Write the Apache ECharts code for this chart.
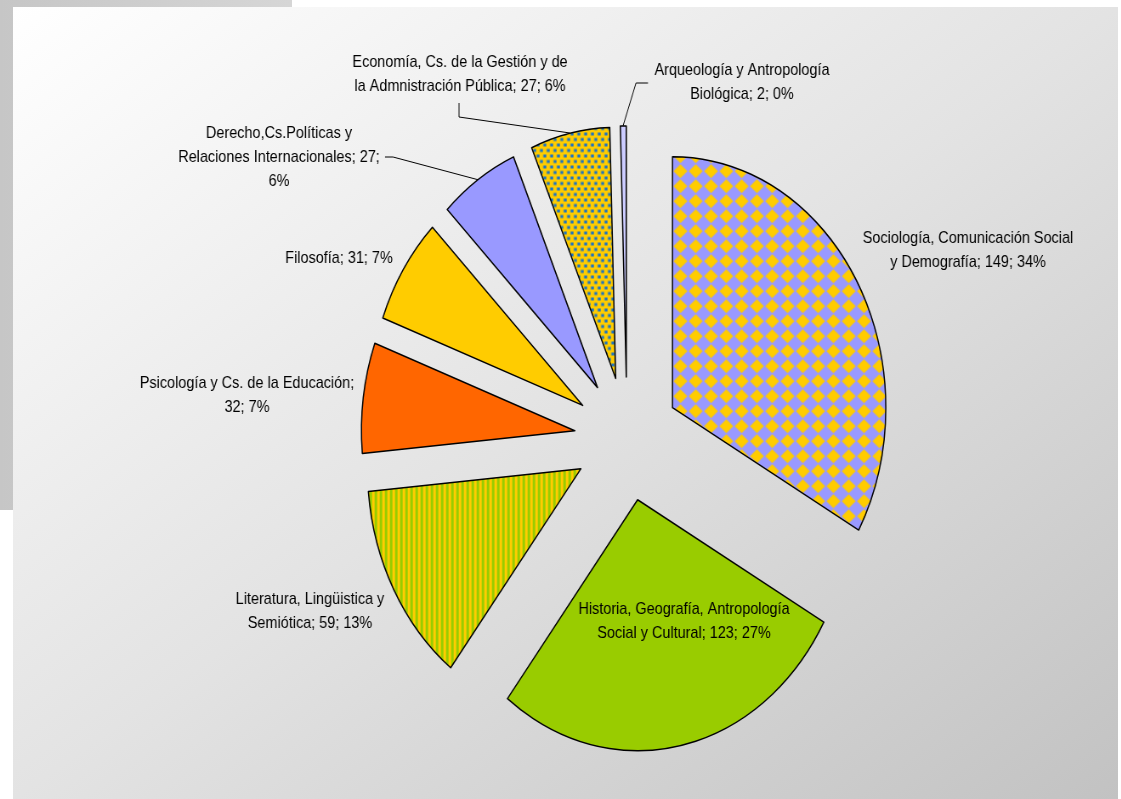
<!DOCTYPE html>
<html>
<head>
<meta charset="utf-8">
<script src="https://cdn.jsdelivr.net/npm/echarts@6/dist/echarts.min.js"></script>
<style>
  html, body { margin: 0; padding: 0; background: #ffffff; overflow: hidden; }
  .back-block {
    position: absolute; left: 0; top: 0; width: 292px; height: 510px;
    background: linear-gradient(to right, #c6c6c6, #d6d6d6);
  }
  .panel {
    position: absolute; left: 13px; top: 7px; width: 1105px; height: 792px;
    background: linear-gradient(to bottom right, #ffffff 0%, #e3e3e3 50%, #c2c2c2 100%);
  }
  /* el original está estirado en horizontal: se dibuja ancho y se comprime */
  #chart {
    position: absolute; left: 0; top: 0; width: 1319px; height: 799px;
    transform: scaleX(0.85); transform-origin: 0 0;
  }
</style>
</head>
<body>
<div class="back-block"></div>
<div class="panel"></div>
<div id="chart"></div>
<script>
// Datos
const categories = [
  'Sociología, Comunicación Social\ny Demografía',
  'Historia, Geografía, Antropología\nSocial y Cultural',
  'Literatura, Lingüistica y\nSemiótica',
  'Psicología y Cs. de la Educación',
  'Filosofía',
  'Derecho,Cs.Políticas y\nRelaciones Internacionales',
  'Economía, Cs. de la Gestión y de\nla Admnistración Pública',
  'Arqueología y Antropología\nBiológica'
];
const values = [149, 123, 59, 32, 31, 27, 27, 2];
const percents = [34, 27, 13, 7, 7, 6, 6, 0];
// dónde corta la etiqueta después del nombre
const labelBreak = ['', '', '', 'value', '', 'pct', '', ''];

const SX = 0.85; // compresión horizontal
const CENTER = [627 / SX, 439];
const RADIUS = 251;

// Texturas
const makeTile = (w, h, draw) => {
  const c = document.createElement('canvas');
  c.width = w; c.height = h;
  draw(c.getContext('2d'));
  return { image: c, repeat: 'repeat' };
};

const diamonds = makeTile(18, 15, (ctx) => {
  ctx.fillStyle = '#9999ff';
  ctx.fillRect(0, 0, 18, 15);
  ctx.fillStyle = '#ffcc00';
  ctx.beginPath();
  ctx.moveTo(9, 0.6);
  ctx.lineTo(17.2, 7.5);
  ctx.lineTo(9, 14.4);
  ctx.lineTo(0.8, 7.5);
  ctx.closePath();
  ctx.fill();
});

const stripes = makeTile(6, 6, (ctx) => {
  ctx.fillStyle = '#99cc00';
  ctx.fillRect(0, 0, 6, 6);
  ctx.fillStyle = '#ffcc00';
  ctx.fillRect(0, 0, 3, 6);
});

const dots = makeTile(8, 11, (ctx) => {
  ctx.fillStyle = '#ffcc00';
  ctx.fillRect(0, 0, 8, 11);
  ctx.fillStyle = '#1f74c0';
  ctx.fillRect(0.5, 0.5, 3.5, 3);
  ctx.fillRect(4.5, 6, 3.5, 3);
});

const fills = [diamonds, '#99cc00', stripes, '#ff6600', '#ffcc00', '#9999ff', dots, '#ccccff'];

// Posiciones de etiquetas (coordenadas de la imagen final)
const labelPos = [
  [968, 250], [684, 621], [310, 611], [247, 395],
  [339, 258], [279, 157], [460, 74], [742, 82]
];
const leaderLines = {
  5: [[479, 180], [393, 157], [385, 157]],
  6: [[570, 133], [459, 117], [459, 103]],
  7: [[623, 126], [636, 83], [648, 83]]
};

const chart = echarts.init(document.getElementById('chart'));

const option = {
  animation: false,
  series: [
    // porciones separadas
    {
      type: 'pie',
      center: CENTER,
      radius: RADIUS,
      startAngle: 90,
      clockwise: true,
      selectedMode: 'multiple',
      selectedOffset: 62,
      silent: true,
      emphasis: { disabled: true },
      itemStyle: {
        borderColor: '#000000',
        borderWidth: 1.5
      },
      label: { show: false },
      labelLine: { show: false },
      data: categories.map((name, i) => ({
        name,
        value: values[i],
        selected: true,
        itemStyle: { color: fills[i] },
        select: { itemStyle: { color: fills[i], borderColor: '#000000', borderWidth: 1.5 } }
      }))
    },
    // capa invisible solo para las etiquetas
    {
      type: 'pie',
      center: CENTER,
      radius: RADIUS,
      startAngle: 90,
      clockwise: true,
      silent: true,
      avoidLabelOverlap: false,
      emphasis: { disabled: true },
      itemStyle: { color: 'rgba(0,0,0,0)', borderWidth: 0 },
      label: {
        show: true,
        position: 'outside',
        color: '#000000',
        fontFamily: '"Liberation Sans", Arial, sans-serif',
        fontSize: 17,
        lineHeight: 24,
        align: 'center',
        formatter: (p) => {
          const i = p.dataIndex;
          const s1 = labelBreak[i] === 'value' ? ';\n' : '; ';
          const s2 = labelBreak[i] === 'pct' ? ';\n' : '; ';
          return p.name + s1 + p.value + s2 + percents[i] + '%';
        }
      },
      labelLine: {
        show: true,
        lineStyle: { color: '#000000', width: 1 }
      },
      labelLayout: (p) => {
        const i = p.dataIndex;
        const res = {
          x: labelPos[i][0] / SX,
          y: labelPos[i][1],
          align: 'center',
          verticalAlign: 'middle'
        };
        if (leaderLines[i]) {
          res.labelLinePoints = leaderLines[i].map((pt) => [pt[0] / SX, pt[1]]);
        }
        return res;
      },
      data: categories.map((name, i) => ({
        name,
        value: values[i],
        labelLine: { show: !!leaderLines[i] }
      }))
    }
  ]
};

chart.setOption(option);
</script>
</body>
</html>
